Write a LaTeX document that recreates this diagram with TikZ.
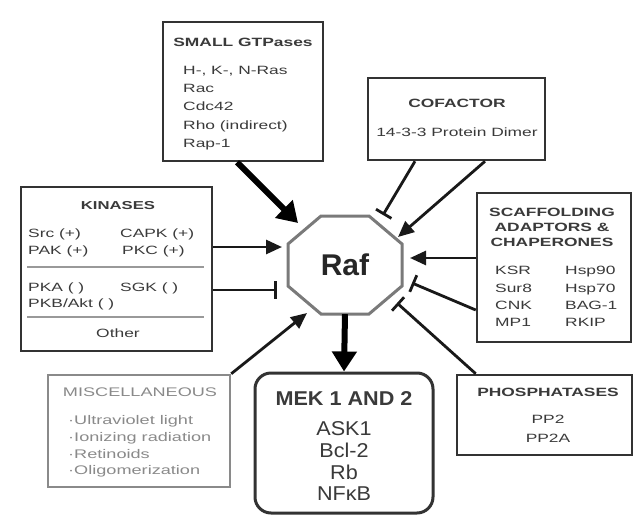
\documentclass[tikz,border=0pt]{standalone}
\usepackage{fontspec}
\setmainfont{Liberation Sans}
\newfontfamily\widefont[FakeStretch=1.45]{Liberation Sans}
\newfontfamily\mekfont[FakeStretch=1.08]{Liberation Sans}
\usetikzlibrary{arrows.meta,calc}
\definecolor{boxline}{HTML}{333333}
\definecolor{txt}{HTML}{3A3A3A}
\definecolor{misccol}{HTML}{8A8A8A}
\definecolor{rafline}{HTML}{7A7A7A}
\tikzset{
 box/.style={draw=boxline, line width=2.5pt, fill=white, inner sep=0pt},
 miscbox/.style={draw=misccol, line width=2.5pt, fill=white, inner sep=0pt},
 mekbox/.style={draw=boxline, line width=3pt, rounded corners=16pt, fill=white, inner sep=0pt},
 lbl/.style={inner sep=0pt, text=txt, font=\widefont\fontsize{12}{14}\selectfont, anchor=base west},
 clbl/.style={lbl, anchor=base},
 ttl/.style={clbl, font=\widefont\bfseries\fontsize{12}{14}\selectfont},
 misclbl/.style={lbl, text=misccol, font=\widefont\fontsize{12.5}{14}\selectfont},
 mekttl/.style={inner sep=0pt, anchor=base, text=txt, font=\mekfont\bfseries\fontsize{20}{22}\selectfont},
 meklbl/.style={inner sep=0pt, anchor=base, text=txt, font=\mekfont\fontsize{20}{22}\selectfont},
 act/.style={draw=black!90, line width=2.8pt, -{Triangle[length=16pt,width=14pt]}},
 inh/.style={draw=black!90, line width=2.8pt, -{Bar[width=18pt,line width=2.8pt]}},
 bigact/.style={draw=black, line width=6pt, -{Triangle[length=20pt,width=24pt]}},
 sep/.style={draw=black!40, line width=2pt},
}
\begin{document}
\begin{tikzpicture}[x=1pt,y=-1pt]
\useasboundingbox[fill=white] (0,0) rectangle (635,517);

% boxes
\node[box, minimum width=160pt, minimum height=139pt] (gtp) at (243,91.5) {};
\node[box, minimum width=177pt, minimum height=82pt] (cof) at (456.5,119) {};
\node[box, minimum width=191pt, minimum height=164pt] (kin) at (116.5,269) {};
\node[box, minimum width=154pt, minimum height=149pt] (scf) at (554,267.5) {};
\node[miscbox, minimum width=182pt, minimum height=112pt] (misc) at (139,431) {};
\node[mekbox, minimum width=178pt, minimum height=140pt] (mek) at (344,443) {};
\node[box, minimum width=175pt, minimum height=80pt] (pho) at (544.5,415) {};

% Raf octagon
\node[minimum width=114pt, minimum height=98pt, inner sep=0pt, text=black!85,
      font=\bfseries\fontsize{30}{32}\selectfont] (raf) at (345,265) {Raf};
\draw[rafline, line width=3pt]
  ($(raf.center)+(-24,-49)$) -- ($(raf.center)+(24,-49)$) -- ($(raf.center)+(57,-21)$) --
  ($(raf.center)+(57,21)$) -- ($(raf.center)+(24,49)$) -- ($(raf.center)+(-24,49)$) --
  ($(raf.center)+(-57,21)$) -- ($(raf.center)+(-57,-21)$) -- cycle;

% SMALL GTPases
\node[ttl] (gtpt) at (243,46) {SMALL GTPases};
\node[lbl] (g1) at (183,74.3) {H-, K-, N-Ras};
\node[lbl] (g2) at (183,92.5) {Rac};
\node[lbl] (g3) at (183,110.8) {Cdc42};
\node[lbl] (g4) at (183,129) {Rho (indirect)};
\node[lbl] (g5) at (183,147.3) {Rap-1};

% COFACTOR
\node[ttl] (coft) at (457,107.5) {COFACTOR};
\node[clbl] (cof1) at (457,136.5) {14-3-3 Protein Dimer};

% KINASES
\node[ttl, font=\widefont\bfseries\fontsize{11.5}{14}\selectfont] (kint) at (118,209) {KINASES};
\node[lbl] (k1) at (28,237) {Src (+)};
\node[lbl] (k2) at (120,237) {CAPK (+)};
\node[lbl] (k3) at (28,254) {PAK (+)};
\node[lbl] (k4) at (122,254) {PKC (+)};
\node[lbl] (k5) at (28,291) {PKA ( )};
\node[lbl] (k6) at (120,291) {SGK ( )};
\node[lbl] (k7) at (28,307.5) {PKB/Akt ( )};
\node[clbl] (k8) at (118,337.5) {Other};
\draw[sep] (27,267) -- (204,267);
\draw[sep] (27,317) -- (204,317);

% SCAFFOLDING
\node[ttl] (s1) at (552,216) {SCAFFOLDING};
\node[ttl] (s2) at (552,231) {ADAPTORS \&};
\node[ttl] (s3) at (552,246.5) {CHAPERONES};
\node[lbl] (sa) at (495,274.5) {KSR};
\node[lbl] (sb) at (495,292) {Sur8};
\node[lbl] (sc) at (495,309.5) {CNK};
\node[lbl] (sd) at (495,326.5) {MP1};
\node[lbl] (se) at (565,274.5) {Hsp90};
\node[lbl] (sf) at (565,292) {Hsp70};
\node[lbl] (sg) at (565,309.5) {BAG-1};
\node[lbl] (sh) at (565,326.5) {RKIP};

% MISCELLANEOUS
\node[misclbl, anchor=base] (mt) at (140,396.5) {MISCELLANEOUS};
\node[misclbl] (m1) at (68,424.5) {·Ultraviolet light};
\node[misclbl] (m2) at (68,441.5) {·Ionizing radiation};
\node[misclbl] (m3) at (68,458) {·Retinoids};
\node[misclbl] (m4) at (68,474.5) {·Oligomerization};

% MEK
\node[mekttl] (mekt) at (344,405) {MEK 1 AND 2};
\node[meklbl] (mk1) at (344,435) {ASK1};
\node[meklbl] (mk2) at (344,457) {Bcl-2};
\node[meklbl] (mk3) at (344,479) {Rb};
\node[meklbl] (mk4) at (344,500.5) {NF\char"03BA B};

% PHOSPHATASES
\node[ttl] (pt) at (548,396.5) {PHOSPHATASES};
\node[clbl] (p1) at (548,423.5) {PP2};
\node[clbl] (p2) at (548,442.5) {PP2A};

% connector ends near Raf
\coordinate (egtp) at (298,223);
\coordinate (ecofT) at (383,215);
\coordinate (ecofA) at (398,237);
\coordinate (ekinA) at (282,247);
\coordinate (ekinT) at (277,290);
\coordinate (emisc) at (307,313);
\coordinate (escfA) at (410,258);
\coordinate (escfT) at (412,283);
\coordinate (epho) at (397,303);

% connectors
\draw[bigact] ([xshift=-6pt]gtp.south) -- (egtp);
\draw[inh] ([xshift=-41.5pt]cof.south) -- (ecofT);
\draw[act] ([xshift=28.5pt]cof.south) -- (ecofA);
\draw[act] ([yshift=22pt]kin.east) -- (ekinA);
\draw[inh] ([yshift=-21pt]kin.east) -- (ekinT);
\draw[act] (misc.north east) -- (emisc);
\draw[bigact] (raf.south) -- (mek.north);
\draw[act] ([yshift=9.5pt]scf.west) -- (escfA);
\draw[inh] ([yshift=-42.5pt]scf.west) -- (escfT);
\draw[inh] ([xshift=20pt]pho.north west) -- (epho);
\end{tikzpicture}
\end{document}
